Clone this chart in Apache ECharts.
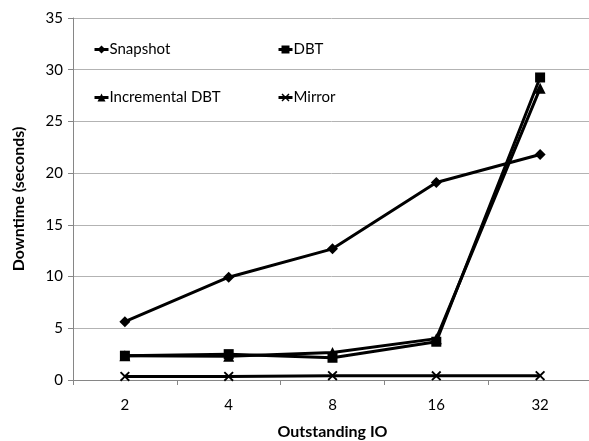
<!DOCTYPE html>
<html>
<head>
<meta charset="utf-8">
<script src="https://cdn.jsdelivr.net/npm/echarts@6/dist/echarts.min.js"></script>
<style>
  html, body { margin: 0; padding: 0; background: #fff; }
  #chart { width: 589px; height: 441px; }
</style>
</head>
<body>
<div id="chart"></div>
<script>
// Outstanding IO levels on the x axis
const categories = ['2', '4', '8', '16', '32'];

// Downtime in seconds for each migration approach
const snapshot = [5.64, 9.94, 12.68, 19.1, 21.8];
const dbt = [2.35, 2.5, 2.15, 3.7, 29.25];
const incrementalDbt = [2.35, 2.3, 2.65, 4.0, 28.2];
const mirror = [0.35, 0.35, 0.42, 0.4, 0.42];

const FONT = 'Lato, "Liberation Sans", sans-serif';
const crossSymbol = 'path://M0,1.3 L1.3,0 L5,3.7 L8.7,0 L10,1.3 L6.3,5 L10,8.7 L8.7,10 L5,6.3 L1.3,10 L0,8.7 L3.7,5 Z';

function lineSeries(name, data, symbol, size) {
  return {
    name: name,
    type: 'line',
    data: data,
    symbol: symbol,
    symbolSize: size,
    showSymbol: true,
    lineStyle: { color: '#000', width: 3 },
    itemStyle: { color: '#000' },
    emphasis: { disabled: true },
    animation: false
  };
}

function legendAt(name, left, top) {
  return {
    data: [name],
    left: left,
    top: top,
    itemWidth: 14,
    itemHeight: 10,
    itemGap: 4,
    lineStyle: { width: 3, color: '#000' },
    textStyle: { fontFamily: FONT, fontSize: 15, color: '#000', padding: [0, 0, 0, -4] },
    selectedMode: false
  };
}

const chart = echarts.init(document.getElementById('chart'), null, { renderer: 'canvas' });
chart.setOption({
  backgroundColor: '#fff',
  animation: false,
  legend: [
    legendAt('Snapshot', 88, 37),
    legendAt('DBT', 272, 37),
    legendAt('Incremental DBT', 88, 85),
    legendAt('Mirror', 272, 85)
  ],
  grid: { left: 73, top: 18, width: 519, height: 362, containLabel: false, outerBoundsMode: 'none' },
  xAxis: {
    type: 'category',
    data: categories,
    boundaryGap: true,
    name: 'Outstanding IO',
    nameLocation: 'middle',
    nameGap: 44,
    nameTextStyle: { fontFamily: FONT, fontSize: 16, fontWeight: 'bold', color: '#000' },
    axisLine: { lineStyle: { color: '#868686', width: 1 } },
    axisTick: { show: true, length: 5, lineStyle: { color: '#868686' } },
    axisLabel: { fontFamily: FONT, fontSize: 15, color: '#000', margin: 18 },
    splitLine: { show: false }
  },
  yAxis: {
    type: 'value',
    min: 0,
    max: 35,
    interval: 5,
    name: 'Downtime (seconds)',
    nameLocation: 'middle',
    nameGap: 46,
    nameTextStyle: { fontFamily: FONT, fontSize: 16, fontWeight: 'bold', color: '#000' },
    axisLine: { show: true, lineStyle: { color: '#868686', width: 1 } },
    axisTick: { show: true, length: 5, lineStyle: { color: '#868686' } },
    axisLabel: { fontFamily: FONT, fontSize: 15, color: '#000', margin: 10 },
    splitLine: { show: true, lineStyle: { color: '#b3b3b3', width: 1 } }
  },
  series: [
    lineSeries('Mirror', mirror, crossSymbol, 10),
    lineSeries('Snapshot', snapshot, 'diamond', 11),
    lineSeries('Incremental DBT', incrementalDbt, 'triangle', 11),
    lineSeries('DBT', dbt, 'rect', 10)
  ]
});
</script>
</body>
</html>
